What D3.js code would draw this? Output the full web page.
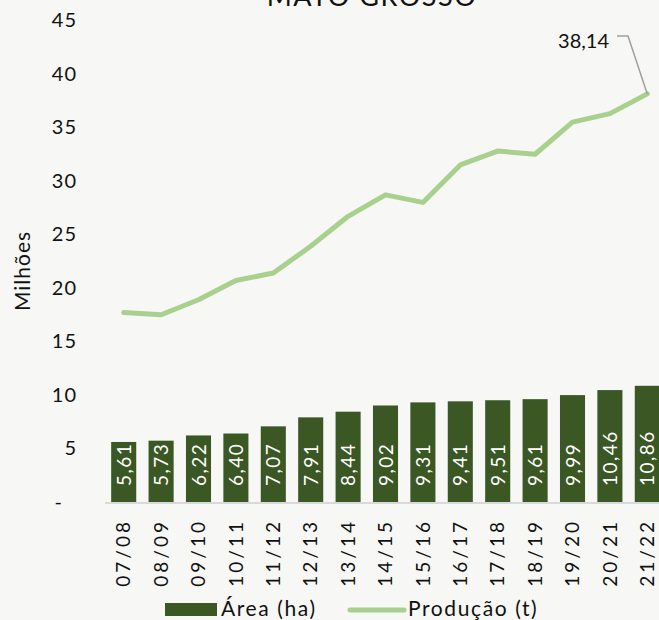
<!DOCTYPE html>
<html><head><meta charset="utf-8">
<script src="https://cdn.jsdelivr.net/npm/d3@7"></script>
<style>
html,body{margin:0;padding:0;background:#f7f7f5;}
svg{display:block;font-family:Lato,"Open Sans",sans-serif;}
</style></head>
<body>
<script>
const categories = ["07/08","08/09","09/10","10/11","11/12","12/13","13/14","14/15","15/16","16/17","17/18","18/19","19/20","20/21","21/22"];
const areaValues = [5.61,5.73,6.22,6.40,7.07,7.91,8.44,9.02,9.31,9.41,9.51,9.61,9.99,10.46,10.86];
const producaoValues = [17.7,17.5,18.9,20.7,21.4,23.9,26.7,28.7,28.0,31.5,32.8,32.5,35.5,36.3,38.14];
const yTicks = [0,5,10,15,20,25,30,35,40,45];
const title = "MATO GROSSO";

const W = 659, H = 620;
const svg = d3.select("body").append("svg").attr("width", W).attr("height", H);
svg.append("rect").attr("width", W).attr("height", H).attr("fill", "#f7f7f5");

const x = d3.scaleBand().domain(categories).range([105, 666]).paddingInner(0.33).paddingOuter(0.165);
const y = d3.scaleLinear().domain([0, 45]).range([502, 20.5]);

// title (cut off at top, as in the reference)
svg.append("text").attr("x", 372).attr("y", 6).attr("text-anchor", "middle")
  .attr("font-size", 27).attr("letter-spacing", 1.5).attr("fill", "#111").text(title);

// y axis ticks
const yAxis = d3.axisLeft(y).tickValues(yTicks).tickSize(0).tickPadding(0)
  .tickFormat(d => d === 0 ? "-" : d);
const gy = svg.append("g").attr("transform", "translate(77,0)").call(yAxis);
gy.select(".domain").remove();
gy.selectAll("text").attr("font-size", 20).attr("letter-spacing", 1).attr("fill", "#111")
  .attr("font-family", "Lato,sans-serif")
  .attr("x", d => d === 0 ? -14 : 0);

// y label
svg.append("text").attr("transform", "translate(30,271) rotate(-90)")
  .attr("text-anchor", "middle").attr("font-size", 21).attr("letter-spacing", 1).attr("fill", "#111").text("Milhões");

// bars
svg.append("g").selectAll("rect").data(areaValues).join("rect")
  .attr("x", (d, i) => x(categories[i]))
  .attr("y", d => y(d))
  .attr("width", x.bandwidth())
  .attr("height", d => y(0) - y(d))
  .attr("fill", "#3a5724");

// bar labels
svg.append("g").selectAll("text").data(areaValues).join("text")
  .attr("transform", (d, i) => `translate(${x(categories[i]) + x.bandwidth() / 2 + 7},${y(0) - 16}) rotate(-90)`)
  .attr("text-anchor", "start").attr("font-size", 19).attr("letter-spacing", 1.5).attr("fill", "#fff")
  .text(d => d.toFixed(2).replace(".", ","));

// baseline
svg.append("line").attr("x1", 105).attr("x2", W).attr("y1", y(0) + 1).attr("y2", y(0) + 1)
  .attr("stroke", "#d9d9d9").attr("stroke-width", 2);

// x axis labels
const xAxis = d3.axisBottom(x).tickSize(0).tickPadding(0);
const gx = svg.append("g").attr("transform", `translate(0,${y(0)})`).call(xAxis);
gx.select(".domain").remove();
gx.selectAll("text")
  .attr("transform", "rotate(-90)")
  .attr("text-anchor", "end")
  .attr("x", -17).attr("y", 0).attr("dy", "0.35em")
  .attr("font-size", 19).attr("letter-spacing", 3).attr("fill", "#111").attr("font-family", "Lato,sans-serif");

// line
const line = d3.line().x((d, i) => x(categories[i]) + x.bandwidth() / 2).y(d => y(d));
svg.append("path").datum(producaoValues).attr("d", line)
  .attr("fill", "none").attr("stroke", "#a8d18d").attr("stroke-width", 5)
  .attr("stroke-linejoin", "round").attr("stroke-linecap", "round");

// annotation
const lastX = x(categories[14]) + x.bandwidth() / 2, lastY = y(producaoValues[14]);
svg.append("path").attr("d", `M${lastX},${lastY} L628,36 L617,36`)
  .attr("fill", "none").attr("stroke", "#a0a0a0").attr("stroke-width", 1.5);
svg.append("text").attr("x", 609).attr("y", 48).attr("text-anchor", "end")
  .attr("font-size", 20).attr("fill", "#111")
  .text(producaoValues[14].toFixed(2).replace(".", ","));

// legend
const lg = svg.append("g");
lg.append("rect").attr("x", 165).attr("y", 603).attr("width", 52).attr("height", 13).attr("fill", "#3a5724");
lg.append("text").attr("x", 221).attr("y", 616).attr("font-size", 21).attr("letter-spacing", 1.6).attr("fill", "#111").text("Área (ha)");
lg.append("line").attr("x1", 350).attr("x2", 404).attr("y1", 610).attr("y2", 610)
  .attr("stroke", "#a8d18d").attr("stroke-width", 5).attr("stroke-linecap", "round");
lg.append("text").attr("x", 408).attr("y", 616).attr("font-size", 21).attr("letter-spacing", 1.6).attr("fill", "#111").text("Produção (t)");
</script>
</body></html>
